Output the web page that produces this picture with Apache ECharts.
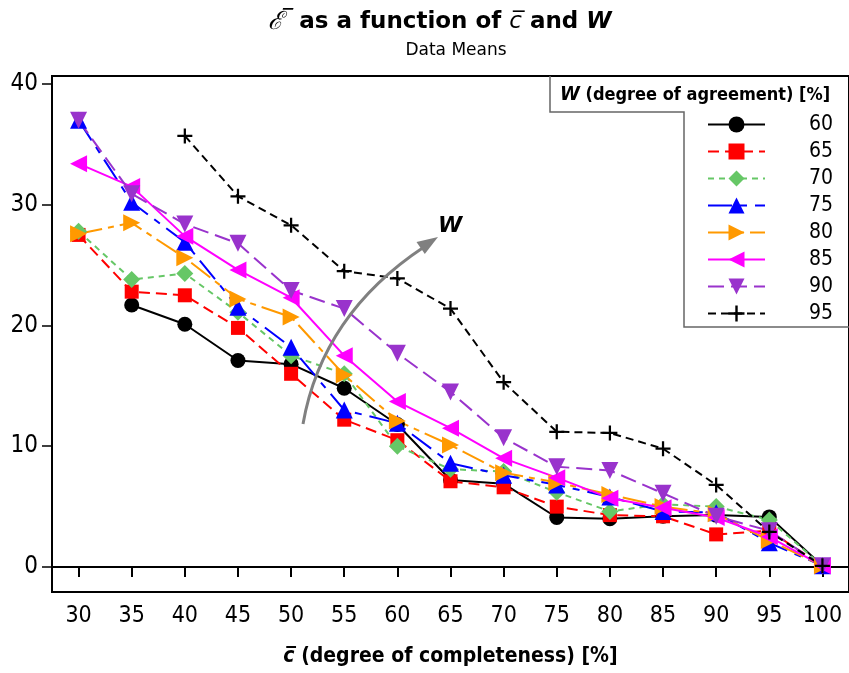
<!DOCTYPE html>
<html>
<head>
<meta charset="utf-8">
<script src="https://cdn.jsdelivr.net/npm/echarts@6/dist/echarts.min.js"></script>
<style>
html,body{margin:0;padding:0;background:#fff;}
#chart{width:849px;height:673px;}
</style>
</head>
<body>
<div id="chart"></div>
<script>
const categories = ['30','35','40','45','50','55','60','65','70','75','80','85','90','95','100'];
const yTicks = [0, 10, 20, 30, 40];
const seriesNames = ['60','65','70','75','80','85','90','95'];
const w60 = [null, 21.7, 20.1, 17.1, 16.8, 14.8, 11.8, 7.2, 6.9, 4.1, 4.0, 4.2, 4.3, 4.15, 0.1];
const w65 = [27.5, 22.8, 22.5, 19.8, 16.0, 12.2, 10.5, 7.1, 6.6, 5.0, 4.3, 4.2, 2.7, 3.0, 0.1];
const w70 = [27.8, 23.8, 24.3, 21.1, 17.5, 16.0, 10.0, 8.1, 7.9, 6.2, 4.6, 5.2, 5.0, 3.9, 0.1];
const w75 = [37.0, 30.2, 26.9, 21.5, 18.2, 13.0, 11.9, 8.6, 7.6, 6.8, 5.8, 4.6, 4.5, 2.0, 0.1];
const w80 = [27.6, 28.5, 25.6, 22.2, 20.7, 15.9, 12.1, 10.1, 7.8, 7.0, 6.0, 5.0, 4.4, 2.2, 0.1];
const w85 = [33.4, 31.5, 27.4, 24.6, 22.3, 17.5, 13.7, 11.5, 9.0, 7.4, 5.7, 4.9, 4.1, 2.5, 0.1];
const w90 = [37.0, 30.9, 28.4, 26.8, 22.9, 21.4, 17.7, 14.5, 10.7, 8.3, 8.0, 6.1, 4.2, 3.0, 0.1];
const w95 = [null, null, 35.7, 30.7, 28.3, 24.5, 23.9, 21.4, 15.3, 11.2, 11.1, 9.8, 6.8, 2.9, 0.1];

const FONT = '"DejaVu Sans Condensed", "DejaVu Sans", sans-serif';
const FONTW = '"DejaVu Sans", sans-serif';
const plusPath = 'path://M8.5,0 H11.5 V8.5 H20 V11.5 H11.5 V20 H8.5 V11.5 H0 V8.5 H8.5 Z';

function mk(name, data, color, symbol, size, rot, dash, width) {
  return {
    name: name, type: 'line', data: data,
    symbol: symbol, symbolSize: size, symbolRotate: rot,
    showAllSymbol: true, connectNulls: false,
    lineStyle: {color: color, width: width || 2, type: dash},
    itemStyle: {color: color},
    emphasis: {disabled: true},
    z: 3
  };
}

const chart = echarts.init(document.getElementById('chart'), null, {renderer: 'canvas'});
const option = {
  animation: false,
  backgroundColor: '#fff',
  title: [{
    text: '{e|ℰ̅}  as a function of {c|c̅} and {w|W}',
    left: 435, top: 5, textAlign: 'center',
    textStyle: {
      fontFamily: FONTW, fontSize: 23, fontWeight: 'bold', color: '#000',
      rich: {
        e: {fontFamily: '"DejaVu Serif", serif', fontSize: 25, fontStyle: 'italic', fontWeight: 'normal', color: '#000'},
        c: {fontFamily: FONTW, fontSize: 23, fontStyle: 'italic', fontWeight: 'normal', color: '#000'},
        w: {fontFamily: FONTW, fontSize: 23, fontStyle: 'italic', fontWeight: 'bold', color: '#000'}
      }
    }
  }, {
    text: 'Data Means', left: 451, top: 37, textAlign: 'center',
    textStyle: {fontFamily: FONTW, fontSize: 17, fontWeight: 'normal', color: '#000'}
  }],
  grid: {left: 52, right: -2, top: 76, bottom: 81, show: true, borderColor: '#000', borderWidth: 2, backgroundColor: 'transparent'},
  xAxis: {
    type: 'category', data: categories, boundaryGap: true,
    axisLine: {show: true, lineStyle: {color: '#000', width: 2}},
    axisTick: {show: true, alignWithLabel: true, interval: 0, length: 10, lineStyle: {color: '#000', width: 2}},
    axisLabel: {fontFamily: FONT, fontSize: 23, color: '#000', margin: 13, interval: 0, hideOverlap: false},
    splitLine: {show: false},
    name: '{c|c̅} (degree of completeness) [%]',
    nameLocation: 'middle', nameGap: 54,
    nameTextStyle: {fontFamily: FONT, fontSize: 21, fontWeight: 'bold', color: '#000',
      rich: {c: {fontFamily: FONT, fontSize: 21, fontStyle: 'italic', fontWeight: 'bold', color: '#000'}}}
  },
  yAxis: {
    type: 'value', min: -2.07, max: 40.66,
    axisLine: {show: true, lineStyle: {color: '#000', width: 2}},
    axisTick: {show: true, length: 10, customValues: yTicks, lineStyle: {color: '#000', width: 1.5}},
    axisLabel: {fontFamily: FONT, fontSize: 24, color: '#000', margin: 14, customValues: yTicks},
    splitLine: {show: false}
  },
  legend: {
    orient: 'vertical', left: 702, top: 109,
    itemWidth: 57, itemHeight: 20, itemGap: 6,
    data: seriesNames,
    textStyle: {fontFamily: FONT, fontSize: 21, color: '#000', padding: [0, 0, 0, 39], lineHeight: 20},
    selectedMode: false
  },
  series: [
    mk('60', w60, '#000000', 'circle', 15, 0, 'solid'),
    mk('65', w65, '#ff0000', 'rect', 14, 0, [11, 6]),
    mk('70', w70, '#66c766', 'diamond', 17, 0, [6, 5]),
    mk('75', w75, '#0000ff', 'triangle', 17, 0, [24, 8, 7, 8]),
    mk('80', w80, '#ff9900', 'triangle', 17, -90, [24, 6, 6, 6]),
    mk('85', w85, '#ff00ff', 'triangle', 17, 90, 'solid'),
    mk('90', w90, '#9933cc', 'triangle', 17, 180, [16, 7]),
    mk('95', w95, '#000000', plusPath, 15, 0, [8, 5], 2)
  ],
  graphic: [
    {type: 'polyline', z: 10, shape: {points: [[550, 76], [550, 112], [684, 112], [684, 327], [851, 327]]},
     style: {stroke: '#666', lineWidth: 1.5, fill: null}},
    {type: 'text', z: 10, left: 560, top: 85,
     style: {text: '{w|W} (degree of agreement) [%]', fontFamily: FONT, fontSize: 18, fontWeight: 'bold', fill: '#000',
       rich: {w: {fontFamily: FONT, fontSize: 20, fontStyle: 'italic', fontWeight: 'bold', fill: '#000'}}}},
    {type: 'bezierCurve', z: 10,
     shape: {x1: 303, y1: 424, cpx1: 316, cpy1: 350, cpx2: 356, cpy2: 292, x2: 424, y2: 247},
     style: {stroke: '#808080', lineWidth: 3, fill: null}},
    {type: 'polygon', z: 10,
     shape: {points: [[438, 237], [424.8, 254], [416.5, 242]]},
     style: {fill: '#808080'}},
    {type: 'text', z: 10, left: 438, top: 215,
     style: {text: 'W', fontFamily: FONTW, fontSize: 22, fontStyle: 'italic', fontWeight: 'bold', fill: '#000'}}
  ]
};
chart.setOption(option);
</script>
</body>
</html>
